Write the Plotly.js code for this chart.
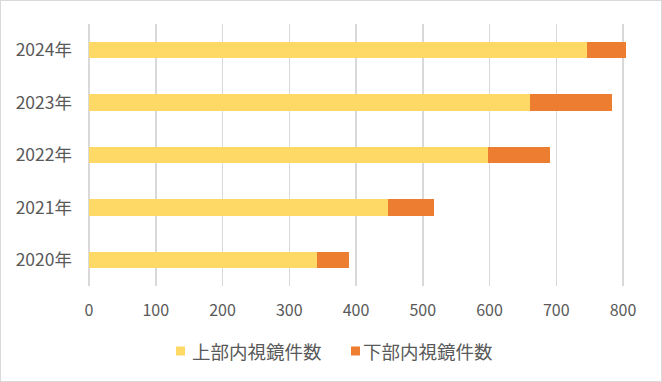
<!DOCTYPE html>
<html><head><meta charset="utf-8">
<script src="https://cdn.plot.ly/plotly-3.0.1.min.js"></script>
<style>html,body{margin:0;padding:0;background:#fff}#c{width:662px;height:382px;box-sizing:border-box;border:1px solid #D9D9D9}</style>
</head><body><div id="c"></div>
<script>
const years = ["2020年","2021年","2022年","2023年","2024年"];
const upper = [342, 448, 598, 660, 746];
const lower = [48, 69, 92, 124, 58];
const seriesNames = ["上部内視鏡件数","下部内視鏡件数"];
const colors = ['#FFD966','#ED7D31'];
const xTicks = [0,100,200,300,400,500,600,700,800];
const fam = '"Noto Sans CJK JP", "Noto Sans", sans-serif';
const col = '#595959';
const M = {l:88, r:34, t:23, b:95};
const W = 660, H = 380;
const pw = W - M.l - M.r, ph = H - M.t - M.b;
const fx = px => (px - 1 - M.l) / pw;
const fy = py => 1 - (py - 1 - M.t) / ph;
const legendItems = [
  {sq:176, tx:190, name:seriesNames[0], color:colors[0]},
  {sq:351, tx:361, name:seriesNames[1], color:colors[1]}
];
const data = [
 {type:'bar', orientation:'h', y:years, x:upper, name:seriesNames[0], marker:{color:colors[0]}},
 {type:'bar', orientation:'h', y:years, x:lower, name:seriesNames[1], marker:{color:colors[1]}}
];
const layout = {
 width:W, height:H, barmode:'stack', bargap:0.69,
 font:{family:fam, size:16, color:col}, paper_bgcolor:'#fff', plot_bgcolor:'#fff',
 margin:M, showlegend:false,
 xaxis:{range:[0,806], tickvals:xTicks, showgrid:true, gridcolor:'#D9D9D9', gridwidth:1.5, zeroline:true, zerolinecolor:'#D9D9D9', zerolinewidth:1.5, ticks:'', ticklabelstandoff:13, tickfont:{family:fam, size:16, color:col}, fixedrange:true},
 yaxis:{showgrid:false, ticks:'', ticklabelstandoff:16, tickfont:{family:fam, size:17.5, color:col}},
 shapes: legendItems.map(it => ({type:'rect', xref:'paper', yref:'paper', x0:fx(it.sq), x1:fx(it.sq+9), y0:fy(355.5), y1:fy(346.5), fillcolor:it.color, line:{width:0}})),
 annotations: legendItems.map(it => ({xref:'paper', yref:'paper', x:fx(it.tx), y:fy(351), xanchor:'left', yanchor:'middle', showarrow:false, text:it.name, font:{family:fam, size:18.5, color:col}}))
};
Plotly.newPlot('c', data, layout, {displayModeBar:false, staticPlot:true});
</script></body></html>
